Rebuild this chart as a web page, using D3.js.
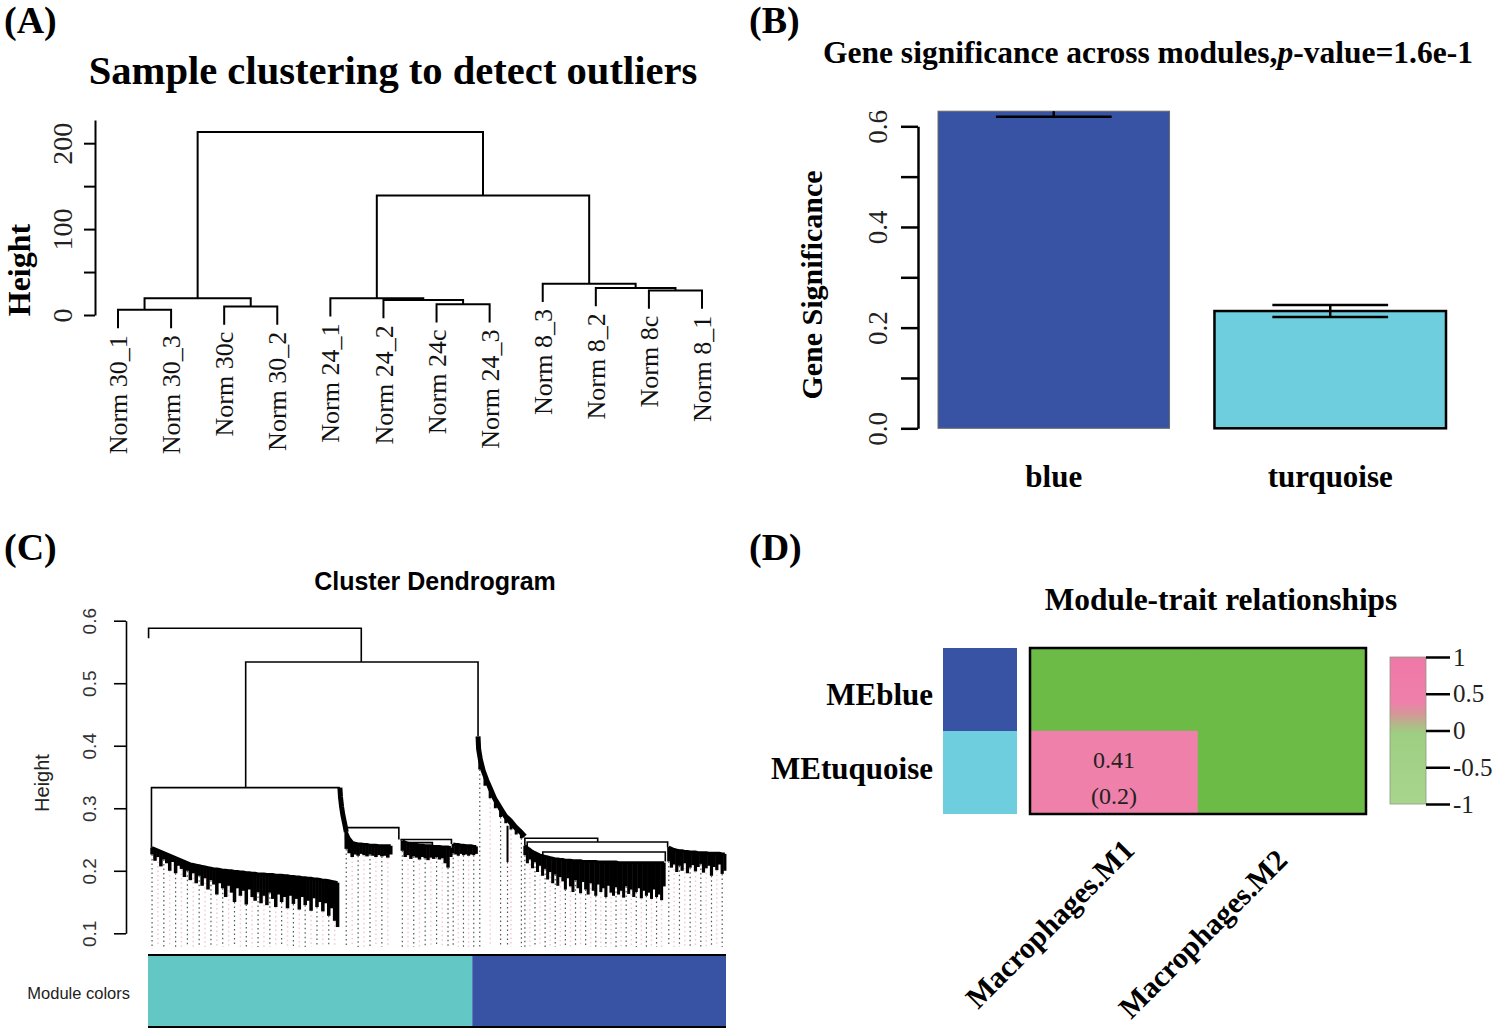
<!DOCTYPE html>
<html>
<head>
<meta charset="utf-8">
<script src="https://cdn.jsdelivr.net/npm/d3@7"></script>
<style>
  body { margin: 0; background: #fff; }
  svg { display: block; }
</style>
</head>
<body>
<svg id="fig" width="1500" height="1033"></svg>
<script>
// ---------- data ----------
// (A) sample tree, hclust style merge table: negative = leaf, positive = earlier merge row
const sampleLabels = ["Norm 30_1", "Norm 30_3", "Norm 30c", "Norm 30_2", "Norm 24_1", "Norm 24_2",
  "Norm 24c", "Norm 24_3", "Norm 8_3", "Norm 8_2", "Norm 8c", "Norm 8_1"];
const sampleMerge = [
  [-1, -2, 6], [-3, -4, 10], [1, 2, 19.5],
  [-7, -8, 12.5], [-6, 4, 17.5], [-5, 5, 19.5],
  [-11, -12, 28.5], [-10, 7, 31.5], [-9, 8, 36.5],
  [6, 9, 139], [3, 10, 213]
];
const sampleTicks = [0, 50, 100, 150, 200];

// (B) gene significance per module
const modules = ["blue", "turquoise"];
const gsMean = [0.630, 0.233];
const gsSE = [0.011, 0.012];
const gsTicks = [0, 0.1, 0.2, 0.3, 0.4, 0.5, 0.6];

// (C) gene dendrogram, leaf order 0..1000
// main merges: [left pos, right pos, height, left child top, right child top]
const geneMerges = [
  [1, 369, 0.588, 0.572, 0.534],
  [169, 571, 0.534, 0.333, 0.415],
  [6, 332, 0.333, 0.237, 0.333],
  [342, 434, 0.269, 0.250, 0.250],
  [438, 525, 0.250, 0.248, 0.243],
  [450, 492, 0.245, 0.241, 0.239],
  [652, 778, 0.252, 0.240, 0.246],
  [656, 899, 0.246, 0.236, 0.238],
  [683, 895, 0.230, 0.222, 0.215]
];
const descentT = [[332, 0.333], [333, 0.318], [335, 0.302], [337, 0.290], [339, 0.281], [341, 0.272], [343, 0.262]];
const descentB = [[571, 0.415], [572, 0.395], [575, 0.378], [580, 0.360], [586, 0.345], [593, 0.330],
  [600, 0.315], [610, 0.300], [618, 0.288], [627, 0.280], [636, 0.270], [645, 0.262], [652, 0.255]];
const geneClusters = [
  { start: 7, end: 328,
    tops: [0.237, 0.235, 0.233, 0.231, 0.229, 0.227, 0.225, 0.223, 0.221, 0.219, 0.217, 0.215, 0.213, 0.211, 0.210, 0.209,
      0.208, 0.207, 0.206, 0.205, 0.204, 0.203, 0.203, 0.202, 0.201, 0.201, 0.200, 0.200, 0.199, 0.199, 0.198, 0.198,
      0.197, 0.197, 0.196, 0.196, 0.195, 0.195, 0.195, 0.194, 0.194, 0.194, 0.193, 0.193, 0.193, 0.192, 0.192, 0.191,
      0.191, 0.190, 0.190, 0.189, 0.189, 0.188, 0.188, 0.187, 0.187, 0.186, 0.185, 0.185, 0.184, 0.183, 0.182, 0.181],
    tips: [0.226, 0.216, 0.222, 0.207, 0.218, 0.212, 0.200, 0.214, 0.196, 0.208, 0.203, 0.190, 0.200, 0.185, 0.196, 0.180,
      0.192, 0.176, 0.188, 0.170, 0.185, 0.178, 0.162, 0.180, 0.172, 0.158, 0.176, 0.165, 0.150, 0.172, 0.160, 0.168,
      0.146, 0.170, 0.158, 0.152, 0.166, 0.148, 0.160, 0.145, 0.165, 0.155, 0.142, 0.162, 0.150, 0.158, 0.140, 0.160,
      0.147, 0.155, 0.138, 0.158, 0.145, 0.152, 0.136, 0.156, 0.142, 0.150, 0.135, 0.148, 0.128, 0.140, 0.120, 0.110] },
  { start: 343, end: 420,
    tops: [0.262, 0.252, 0.246, 0.244, 0.243, 0.243, 0.242, 0.242, 0.241, 0.241, 0.241, 0.240, 0.240, 0.240, 0.240, 0.240],
    tips: [0.235, 0.228, 0.222, 0.226, 0.224, 0.227, 0.225, 0.223, 0.226, 0.224, 0.222, 0.225, 0.223, 0.224, 0.221, 0.226] },
  { start: 440, end: 524,
    tops: [0.248, 0.246, 0.244, 0.243, 0.242, 0.242, 0.241, 0.241, 0.240, 0.240, 0.240, 0.239, 0.239, 0.239, 0.238, 0.238, 0.238, 0.237],
    tips: [0.232, 0.222, 0.225, 0.219, 0.223, 0.221, 0.218, 0.222, 0.220, 0.217, 0.221, 0.219, 0.222, 0.218, 0.220, 0.212, 0.205, 0.222] },
  { start: 528, end: 568,
    tops: [0.243, 0.242, 0.242, 0.241, 0.241, 0.240, 0.240, 0.240, 0.239, 0.239],
    tips: [0.228, 0.226, 0.224, 0.227, 0.225, 0.226, 0.224, 0.226, 0.225, 0.227] },
  { start: 574, end: 646, width: 3,
    tops: [0.380, 0.352, 0.330, 0.312, 0.296, 0.284, 0.274, 0.266, 0.259],
    tips: [0.362, 0.336, 0.316, 0.300, 0.286, 0.276, 0.266, 0.258, 0.252] },
  { start: 622, end: 622, tops: [0.272], tips: [0.214] },
  { start: 652, end: 893,
    tops: [0.240, 0.237, 0.234, 0.231, 0.229, 0.227, 0.225, 0.224, 0.223, 0.222, 0.221, 0.220, 0.219, 0.219, 0.218, 0.218,
      0.217, 0.217, 0.217, 0.216, 0.216, 0.216, 0.216, 0.215, 0.215, 0.215, 0.215, 0.215, 0.215, 0.214, 0.214, 0.214,
      0.214, 0.214, 0.214, 0.214, 0.214, 0.213, 0.213, 0.213, 0.213, 0.213, 0.213, 0.213, 0.213, 0.213, 0.213, 0.213,
      0.213, 0.213, 0.213, 0.213, 0.213, 0.213, 0.213, 0.213],
    tips: [0.225, 0.212, 0.218, 0.204, 0.214, 0.198, 0.208, 0.192, 0.203, 0.186, 0.198, 0.180, 0.194, 0.176, 0.190, 0.183,
      0.170, 0.188, 0.175, 0.166, 0.185, 0.172, 0.164, 0.182, 0.170, 0.162, 0.180, 0.168, 0.160, 0.178, 0.166, 0.172,
      0.158, 0.176, 0.165, 0.160, 0.174, 0.162, 0.168, 0.157, 0.175, 0.163, 0.170, 0.158, 0.166, 0.172, 0.156, 0.168,
      0.160, 0.165, 0.155, 0.170, 0.158, 0.162, 0.153, 0.175] },
  { start: 901, end: 998,
    tops: [0.238, 0.236, 0.234, 0.233, 0.232, 0.232, 0.231, 0.231, 0.230, 0.230, 0.230, 0.229, 0.229, 0.229, 0.229, 0.228,
      0.228, 0.228, 0.228, 0.228, 0.227, 0.227],
    tips: [0.215, 0.205, 0.210, 0.198, 0.208, 0.200, 0.212, 0.196, 0.205, 0.209, 0.199, 0.206, 0.211, 0.197, 0.204, 0.208,
      0.192, 0.206, 0.201, 0.210, 0.195, 0.200] }
];
const geneTicks = [0.1, 0.2, 0.3, 0.4, 0.5, 0.6];
const moduleBlocks = [["turquoise", 0, 561], ["blue", 561, 1000]];

// (D) module-trait relationships
const traitRows = ["MEblue", "MEtuquoise"];
const rowModules = ["blue", "turquoise"];
const traitCols = ["Macrophages.M1", "Macrophages.M2"];
const traitCor = [[null, null], [0.41, null]];
const traitP = [[null, null], [0.2, null]];
const legendTicks = [-1, -0.5, 0, 0.5, 1];
const legendStops = [[-1, "#a9d58d"], [-0.05, "#9dcf82"], [0.06, "#aebd88"], [0.2, "#cf9c95"], [0.38, "#ef80aa"], [1, "#ef78a7"]];

// ---------- styles ----------
const SERIF = '"Liberation Serif","Times New Roman",Times,serif';
const SANS = '"Liberation Sans",Arial,Helvetica,sans-serif';
const moduleColor = { blue: "#3953a4", turquoise: "#6ecedd" };
const barColorC = { blue: "#3953a4", turquoise: "#63c7c5" };

const svg = d3.select("#fig");

// panel letters
[["(A)", 4, 33], ["(B)", 749, 33], ["(C)", 4, 560], ["(D)", 749, 560]].forEach(([t, x, y]) => {
  svg.append("text").attr("x", x).attr("y", y).text(t)
    .attr("font-family", SERIF).attr("font-weight", "bold").attr("font-size", 38);
});

// ================= (A) =================
const gA = svg.append("g");
gA.append("text").attr("x", 393).attr("y", 84).attr("text-anchor", "middle")
  .attr("font-family", SERIF).attr("font-weight", "bold").attr("font-size", 40.6)
  .text("Sample clustering to detect outliers");

const xA = d3.scalePoint().domain(sampleLabels).range([118, 702]);
const yA = d3.scaleLinear().domain([0, 227]).range([315, 120]);
const hangA = 0.1 * d3.max(sampleMerge, d => d[2]);

const leavesA = sampleLabels.map(l => ({ label: l, x: xA(l), leaf: true }));
const nodesA = [];
const getA = id => (id < 0 ? leavesA[-id - 1] : nodesA[id - 1]);
sampleMerge.forEach(([a, b, h]) => {
  const na = getA(a), nb = getA(b);
  if (na.leaf) na.bottom = h - hangA;
  if (nb.leaf) nb.bottom = h - hangA;
  nodesA.push({ x: (na.x + nb.x) / 2, h, a: na, b: nb });
});

gA.append("g").selectAll("path").data(nodesA).join("path")
  .attr("fill", "none").attr("stroke", "#000").attr("stroke-width", 2)
  .attr("d", n => {
    const ya = yA(n.a.leaf ? n.a.bottom : n.a.h);
    const yb = yA(n.b.leaf ? n.b.bottom : n.b.h);
    return `M${n.a.x},${ya}V${yA(n.h)}H${n.b.x}V${yb}`;
  });

gA.append("g").selectAll("text").data(leavesA).join("text")
  .attr("transform", d => `translate(${d.x},${yA(d.bottom) + 7}) rotate(-90)`)
  .attr("text-anchor", "end").attr("dy", "0.35em")
  .attr("font-family", SERIF).attr("font-size", 26).attr("fill", "#111")
  .text(d => d.label);

const axA = gA.append("g").attr("transform", "translate(95,0)")
  .call(d3.axisLeft(yA).tickValues(sampleTicks).tickSize(11).tickSizeOuter(0)
    .tickFormat(d => (d % 100 === 0 ? d : "")));
axA.selectAll("path,line").attr("stroke-width", 2);
axA.selectAll(".tick text").attr("x", null).attr("dy", null).attr("text-anchor", "middle")
  .attr("transform", "translate(-23,0) rotate(-90)")
  .attr("font-family", SERIF).attr("font-size", 28).attr("fill", "#222");

gA.append("text").attr("transform", "translate(30,270) rotate(-90)").attr("text-anchor", "middle")
  .attr("font-family", SERIF).attr("font-weight", "bold").attr("font-size", 32).text("Height");

// ================= (B) =================
const gB = svg.append("g");
const titleB = gB.append("text").attr("x", 1148).attr("y", 63).attr("text-anchor", "middle")
  .attr("font-family", SERIF).attr("font-weight", "bold").attr("font-size", 31.5);
titleB.append("tspan").text("Gene significance across modules,");
titleB.append("tspan").attr("font-style", "italic").text("p");
titleB.append("tspan").text("-value=1.6e-1");

const xB = d3.scaleBand().domain(modules).range([938, 1446]).paddingInner(0.1625);
const yB = d3.scaleLinear().domain([0, 0.6]).range([428.3, 126.3]);
const gsData = modules.map((m, i) => ({ m, v: gsMean[i], se: gsSE[i] }));

gB.append("defs").append("clipPath").attr("id", "clipB").append("rect")
  .attr("x", 920).attr("y", yB(d3.max(gsMean))).attr("width", 560).attr("height", 400);

gB.append("g").selectAll("rect").data(gsData).join("rect")
  .attr("x", d => xB(d.m)).attr("width", xB.bandwidth())
  .attr("y", d => yB(d.v)).attr("height", d => yB(0) - yB(d.v))
  .attr("fill", d => moduleColor[d.m])
  .attr("stroke", d => (d.m === "blue" ? "#6a6a6a" : "#000"))
  .attr("stroke-width", d => (d.m === "blue" ? 1 : 2.5));

const errB = gB.append("g").attr("clip-path", "url(#clipB)").attr("stroke", "#000").attr("stroke-width", 2.5);
gsData.forEach(d => {
  const cx = xB(d.m) + xB.bandwidth() / 2, w = xB.bandwidth() * 0.25;
  errB.append("line").attr("x1", cx).attr("x2", cx).attr("y1", yB(d.v + d.se)).attr("y2", yB(d.v - d.se));
  [d.v + d.se, d.v - d.se].forEach(v => {
    errB.append("line").attr("x1", cx - w).attr("x2", cx + w).attr("y1", yB(v)).attr("y2", yB(v));
  });
});

const axB = gB.append("g").attr("transform", "translate(918,0)")
  .call(d3.axisLeft(yB).tickValues(gsTicks).tickSize(17).tickSizeOuter(0)
    .tickFormat(d => (Math.round(d * 10) % 2 === 0 ? d3.format(".1f")(d) : "")));
axB.selectAll("path,line").attr("stroke-width", 2.5);
axB.selectAll(".tick text").attr("x", null).attr("dy", null).attr("text-anchor", "middle")
  .attr("transform", "translate(-31,0) rotate(-90)")
  .attr("font-family", SERIF).attr("font-size", 27).attr("fill", "#222");

gB.append("text").attr("transform", "translate(822,285) rotate(-90)").attr("text-anchor", "middle")
  .attr("font-family", SERIF).attr("font-weight", "bold").attr("font-size", 30).text("Gene Significance");

gB.append("g").selectAll("text").data(modules).join("text")
  .attr("x", d => xB(d) + xB.bandwidth() / 2).attr("y", 487).attr("text-anchor", "middle")
  .attr("font-family", SERIF).attr("font-weight", "bold").attr("font-size", 31).text(d => d);

// ================= (C) =================
const gC = svg.append("g");
gC.append("text").attr("x", 435).attr("y", 590).attr("text-anchor", "middle")
  .attr("font-family", SANS).attr("font-weight", "bold").attr("font-size", 25).text("Cluster Dendrogram");

const xC = d3.scaleLinear().domain([0, 1000]).range([148, 726]);
const yC = d3.scaleLinear().domain([0.1, 0.6]).range([933.3, 620.7]);
const dotBottom = 0.078;

const leavesC = [];
geneClusters.forEach(c => {
  const n = c.tops.length;
  const step = n > 1 ? (c.end - c.start) / (n - 1) : 0;
  const w = c.width || (n > 1 ? Math.max(1.5, (xC(c.end) - xC(c.start)) / (n - 1) * 1.2) : 2);
  c.tops.forEach((t, i) => leavesC.push({ pos: c.start + i * step, top: t, tip: c.tips[i], w, i }));
});

// dotted hang lines
gC.append("g").selectAll("line").data(leavesC.filter(d => d.i % 2 === 0)).join("line")
  .attr("x1", d => xC(d.pos)).attr("x2", d => xC(d.pos))
  .attr("y1", d => yC(d.tip)).attr("y2", yC(dotBottom))
  .attr("stroke", d => (d.i % 4 === 0 ? "#555" : "#f2c4d6"))
  .attr("stroke-width", d => (d.i % 4 === 0 ? 1.2 : 1.4))
  .attr("stroke-dasharray", "1.5,3");

// dense leaves
gC.append("g").selectAll("line").data(leavesC).join("line")
  .attr("x1", d => xC(d.pos)).attr("x2", d => xC(d.pos))
  .attr("y1", d => yC(d.top)).attr("y2", d => yC(d.tip))
  .attr("stroke", "#000").attr("stroke-width", d => d.w);

const lineC = d3.line().x(d => xC(d[0])).y(d => yC(d[1]));
gC.append("g").selectAll("path").data(geneClusters.filter(c => c.tops.length > 1)).join("path")
  .attr("fill", "none").attr("stroke", "#000").attr("stroke-width", 3)
  .attr("d", c => lineC(c.tops.map((t, i) => [c.start + i * (c.end - c.start) / (c.tops.length - 1), t])));

gC.append("g").selectAll("path").data([descentT, descentB]).join("path")
  .attr("fill", "none").attr("stroke", "#000").attr("stroke-width", 5).attr("d", lineC);

gC.append("g").selectAll("path").data(geneMerges).join("path")
  .attr("fill", "none").attr("stroke", "#000").attr("stroke-width", 1.6)
  .attr("d", ([a, b, h, ha, hb]) => `M${xC(a)},${yC(ha)}V${yC(h)}H${xC(b)}V${yC(hb)}`);

const axC = gC.append("g").attr("transform", "translate(126,0)")
  .call(d3.axisLeft(yC).tickValues(geneTicks).tickSize(12).tickSizeOuter(0).tickFormat(d3.format(".1f")));
axC.selectAll("path,line").attr("stroke-width", 1.6);
axC.selectAll(".tick text").attr("x", null).attr("dy", null).attr("text-anchor", "middle")
  .attr("transform", "translate(-30,0) rotate(-90)")
  .attr("font-family", SANS).attr("font-size", 19).attr("fill", "#333");

gC.append("text").attr("transform", "translate(49,783) rotate(-90)").attr("text-anchor", "middle")
  .attr("font-family", SANS).attr("font-size", 20).attr("fill", "#222").text("Height");

gC.append("g").selectAll("rect").data(moduleBlocks).join("rect")
  .attr("x", d => xC(d[1])).attr("width", d => xC(d[2]) - xC(d[1]))
  .attr("y", 955).attr("height", 72).attr("fill", d => barColorC[d[0]]);
[955, 1027].forEach(y => {
  gC.append("line").attr("x1", xC(0)).attr("x2", xC(1000)).attr("y1", y).attr("y2", y)
    .attr("stroke", "#000").attr("stroke-width", 2);
});
gC.append("text").attr("x", 130).attr("y", 993).attr("text-anchor", "end").attr("dy", "0.35em")
  .attr("font-family", SANS).attr("font-size", 16.5).attr("fill", "#222").text("Module colors");

// ================= (D) =================
const gD = svg.append("g");
gD.append("text").attr("x", 1221).attr("y", 610).attr("text-anchor", "middle")
  .attr("font-family", SERIF).attr("font-weight", "bold").attr("font-size", 31.4).text("Module-trait relationships");

const xD = d3.scaleBand().domain(traitCols).range([1030, 1366]);
const yD = d3.scaleBand().domain(traitRows).range([648, 814]);
const colorD = d3.scaleLinear().domain(legendStops.map(s => s[0])).range(legendStops.map(s => s[1]));

gD.append("g").selectAll("rect").data(traitRows).join("rect")
  .attr("x", 943).attr("width", 74).attr("y", d => yD(d)).attr("height", yD.bandwidth())
  .attr("fill", (d, i) => moduleColor[rowModules[i]]);

const cellsD = traitRows.flatMap((r, i) => traitCols.map((c, j) => ({ r, c, v: traitCor[i][j], p: traitP[i][j] })));
gD.append("g").selectAll("rect").data(cellsD).join("rect")
  .attr("x", d => xD(d.c)).attr("y", d => yD(d.r))
  .attr("width", xD.bandwidth()).attr("height", yD.bandwidth())
  .attr("fill", d => (d.v == null ? "#6bbb46" : colorD(d.v)))
  .attr("stroke", d => (d.v == null ? "#6bbb46" : colorD(d.v))).attr("stroke-width", 0.5);

const txtD = gD.append("g").selectAll("g").data(cellsD.filter(d => d.v != null)).join("g")
  .attr("transform", d => `translate(${xD(d.c) + xD.bandwidth() / 2},${yD(d.r) + yD.bandwidth() / 2})`)
  .attr("font-family", SERIF).attr("font-size", 24).attr("fill", "#222").attr("text-anchor", "middle");
txtD.append("text").attr("y", -5).text(d => d.v.toFixed(2));
txtD.append("text").attr("y", 31).text(d => `(${d.p})`);

gD.append("rect").attr("x", 1030).attr("y", 648).attr("width", 336).attr("height", 166)
  .attr("fill", "none").attr("stroke", "#000").attr("stroke-width", 2.5);

gD.append("g").selectAll("text").data(traitRows).join("text")
  .attr("x", 933).attr("y", (d, i) => yD(d) + yD.bandwidth() / 2 + (i === 0 ? 5 : -4))
  .attr("dy", "0.35em").attr("text-anchor", "end")
  .attr("font-family", SERIF).attr("font-weight", "bold").attr("font-size", 31).text(d => d);

gD.append("g").selectAll("text").data(traitCols).join("text")
  .attr("transform", (d, i) => `translate(${xD(d) + xD.bandwidth() / 2 + (i === 0 ? 22 : 7)},${i === 0 ? 852 : 862}) rotate(-45)`)
  .attr("text-anchor", "end")
  .attr("font-family", SERIF).attr("font-weight", "bold").attr("font-size", 30).text(d => d);

// colour legend
const yLeg = d3.scaleLinear().domain([-1, 1]).range([804, 657]);
const grad = gD.append("defs").append("linearGradient").attr("id", "gradD")
  .attr("x1", 0).attr("x2", 0).attr("y1", 1).attr("y2", 0);
grad.selectAll("stop").data(legendStops).join("stop")
  .attr("offset", d => (d[0] + 1) / 2).attr("stop-color", d => d[1]);
gD.append("rect").attr("x", 1390).attr("y", yLeg(1)).attr("width", 36).attr("height", yLeg(-1) - yLeg(1))
  .attr("fill", "url(#gradD)").attr("stroke", "#8a9a80").attr("stroke-width", 0.8);
const axD = gD.append("g").attr("transform", "translate(1426,0)")
  .call(d3.axisRight(yLeg).tickValues(legendTicks).tickSize(24).tickPadding(3).tickFormat(d => String(d)));
axD.select(".domain").remove();
axD.selectAll(".tick line").attr("stroke-width", 2.5);
axD.selectAll(".tick text").attr("font-family", SERIF).attr("font-size", 25).attr("fill", "#222");
</script>
</body>
</html>
